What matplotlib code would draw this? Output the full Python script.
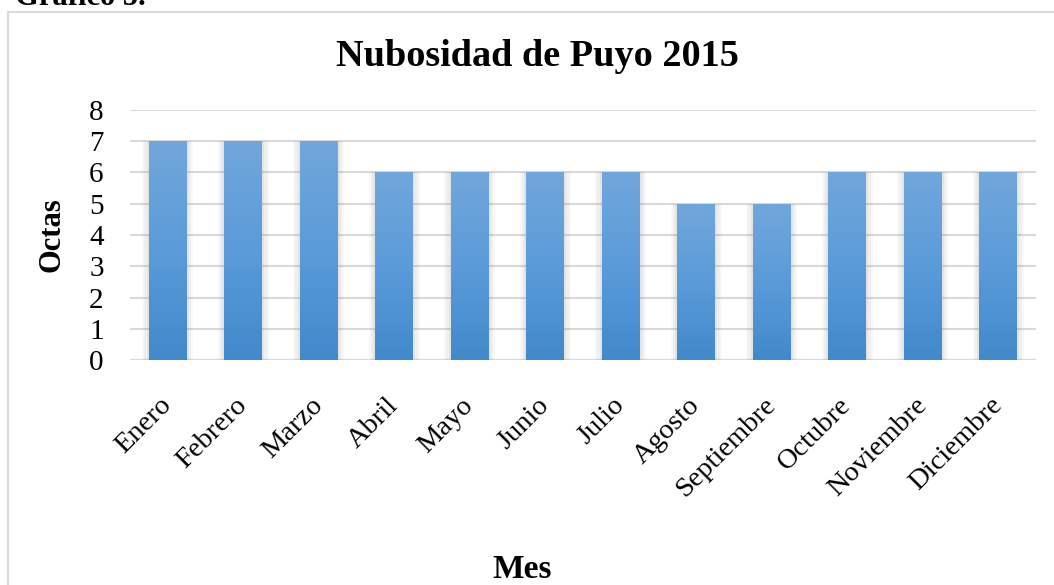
import numpy as np
import matplotlib.pyplot as plt
from matplotlib.patches import Rectangle
from matplotlib.colors import LinearSegmentedColormap

# Datos de nubosidad (octas) por mes
meses = ['Enero', 'Febrero', 'Marzo', 'Abril', 'Mayo', 'Junio', 'Julio',
         'Agosto', 'Septiembre', 'Octubre', 'Noviembre', 'Diciembre']
octas = [7, 7, 7, 6, 6, 6, 6, 5, 5, 6, 6, 6]
yticks = [0, 1, 2, 3, 4, 5, 6, 7, 8]

plt.rcParams['font.family'] = ['Liberation Serif', 'DejaVu Serif']

fig = plt.figure(figsize=(10.54, 5.85), dpi=100)
ax = fig.add_axes([0.1233, 0.3846, 0.8597, 0.4274])

x = np.arange(len(meses))
width = 0.5

# sombra suave detras de las barras
for xi, v in zip(x, octas):
    for k, a in enumerate([0.05, 0.07, 0.09]):
        pad = 0.03 * (3 - k)
        ax.add_patch(Rectangle((xi - width / 2 - pad, -0.08), width + 2 * pad, v + 0.08,
                               facecolor='#808080', alpha=a, edgecolor='none', zorder=2))

bars = ax.bar(x, octas, width=width, color='#5B9BD5', zorder=3)

# degradado vertical en cada barra
cmap = LinearSegmentedColormap.from_list('azul', ['#4189CB', '#5B9BD9', '#71A7DB'])
grad = np.linspace(0, 1, 256).reshape(-1, 1)
for b in bars:
    x0, h = b.get_x(), b.get_height()
    im = ax.imshow(grad, cmap=cmap, aspect='auto', origin='lower',
                   extent=[x0, x0 + b.get_width(), 0, h], zorder=4)
    im.set_clip_path(b)

ax.set_xlim(-0.5, len(meses) - 0.5)
ax.set_ylim(0, 8)
ax.set_yticks(yticks)
ax.set_yticklabels([str(t) for t in yticks], fontsize=21)
ax.set_xticks(x)
ax.set_xticklabels(meses, rotation=45, ha='right', va='center', rotation_mode='anchor', fontsize=20.5)
ax.tick_params(length=0)
ax.tick_params(axis='y', pad=19)
ax.tick_params(axis='x', pad=30)

ax.grid(axis='y', color='#D9D9D9', linewidth=1.5, zorder=0)
for s in ax.spines.values():
    s.set_visible(False)
ax.axhline(0, color='#D0D0D0', linewidth=1.5, zorder=1)

fig.text(52 / 1054, 1 - 235 / 585, 'Octas', rotation=90, ha='center', va='center',
         fontsize=22, fontweight='bold')
fig.text(537 / 1054, 1 - 56 / 585, 'Nubosidad de Puyo 2015', ha='center', va='center',
         fontsize=27.5, fontweight='bold')
fig.text(522 / 1054, 1 - 570 / 585, 'Mes', ha='center', va='center', fontsize=24, fontweight='bold')

# marco del grafico y texto cortado arriba
fig.patches.append(Rectangle((8 / 1054, -0.1), 1.2, 1 - 12 / 585 + 0.1, transform=fig.transFigure,
                             fill=False, edgecolor='#D9D9D9', linewidth=1.5))
fig.text(15 / 1054, 1 - 5 / 585, 'Gráfico 5.', ha='left', va='baseline', fontsize=22, fontweight='bold')

fig.savefig('out.png', dpi=100)
